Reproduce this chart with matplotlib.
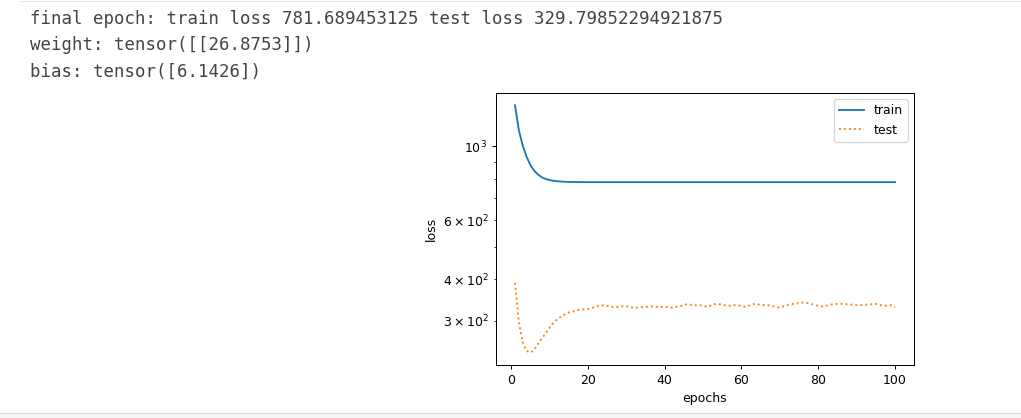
import matplotlib
matplotlib.use("Agg")
import matplotlib.pyplot as plt
from matplotlib.lines import Line2D
from matplotlib.patches import Rectangle

# ---- data ----
epochs = list(range(1, 101))

train_loss = [
    1328, 1118, 1008, 932, 880, 846, 824, 808, 799, 793,
    789, 786.5, 785, 783.8, 783, 782.5, 782.2, 782.0, 781.9, 781.8,
    781.7, 781.7, 781.7, 781.7, 781.7, 781.7, 781.7, 781.7, 781.7, 781.7,
    781.7, 781.7, 781.7, 781.7, 781.7, 781.7, 781.7, 781.7, 781.7, 781.7,
    781.7, 781.7, 781.7, 781.7, 781.7, 781.7, 781.7, 781.7, 781.7, 781.7,
    781.7, 781.7, 781.7, 781.7, 781.7, 781.7, 781.7, 781.7, 781.7, 781.7,
    781.7, 781.7, 781.7, 781.7, 781.7, 781.7, 781.7, 781.7, 781.7, 781.7,
    781.7, 781.7, 781.7, 781.7, 781.7, 781.7, 781.7, 781.7, 781.7, 781.7,
    781.7, 781.7, 781.7, 781.7, 781.7, 781.7, 781.7, 781.7, 781.7, 781.7,
    781.7, 781.7, 781.7, 781.7, 781.7, 781.7, 781.7, 781.7, 781.7, 781.7,
]

test_loss = [
    390, 298, 259, 244, 241, 246, 256, 266, 275.5, 286.5,
    296, 303.5, 309, 314, 318, 320, 322, 324.5, 325, 326,
    327.5, 331, 334, 334, 333, 331, 330, 330.5, 332, 332,
    330.5, 328, 329, 329.8, 330.5, 331.3, 331.3, 330.5, 330.5, 330.5,
    329.8, 328.2, 330.5, 332, 334.3, 337.4, 335.1, 334.3, 334.3, 333.6,
    330.5, 333.6, 336.7, 337.4, 335.1, 333.6, 332.8, 334.3, 334.3, 332.8,
    330.5, 333.6, 336.7, 336.7, 335.1, 334.3, 334.3, 332.8, 329.8, 329.0,
    332.0, 334.3, 336.7, 338.2, 339.0, 340.6, 339.8, 337.4, 335.1, 332.8,
    331.3, 332.8, 335.1, 336.7, 337.4, 337.4, 336.7, 336.7, 335.1, 334.3,
    334.3, 335.1, 335.9, 336.7, 337.4, 335.1, 332.8, 333.6, 334.3, 329.8,
]

series_labels = ["train", "test"]
x_label = "epochs"
y_label = "loss"

output_lines = [
    "final epoch: train loss 781.689453125 test loss 329.79852294921875",
    "weight: tensor([[26.8753]])",
    "bias: tensor([6.1426])",
]

# ---- figure ----
W, H, DPI = 1021, 418, 90
fig = plt.figure(figsize=(W / DPI, H / DPI), dpi=DPI)

def px(x, y):
    return x / W, 1 - y / H

# notebook frame lines
fig.add_artist(Line2D([20 / W, 1.0], [1 - 1.2 / H, 1 - 1.2 / H],
                      transform=fig.transFigure, color="#e3e3e3", lw=0.9))
fig.add_artist(Rectangle((0, 0), 1, (H - 413.5) / H, transform=fig.transFigure,
                         facecolor="#f7f7f7", edgecolor="none"))
fig.add_artist(Line2D([0, 1.0], [1 - 413 / H, 1 - 413 / H],
                      transform=fig.transFigure, color="#dcdcdc", lw=0.9))

# printed text output
baselines = [23.5, 50.0, 76.5]
for line, yb in zip(output_lines, baselines):
    fx, fy = px(30, yb)
    fig.text(fx, fy, line, family="DejaVu Sans Mono", fontsize=13.95,
             color="#444444", va="baseline", ha="left")

# chart axes
left, right, top, bottom = 496, 914, 93, 365
ax = fig.add_axes([left / W, 1 - bottom / H, (right - left) / W, (bottom - top) / H])
ax.plot(epochs, train_loss, label=series_labels[0])
ax.plot(epochs, test_loss, ":", label=series_labels[1])
ax.set_yscale("log")
ax.set_xlabel(x_label)
ax.set_ylabel(y_label)
ax.legend(loc="upper right")

fig.savefig("out.png", dpi=DPI)
